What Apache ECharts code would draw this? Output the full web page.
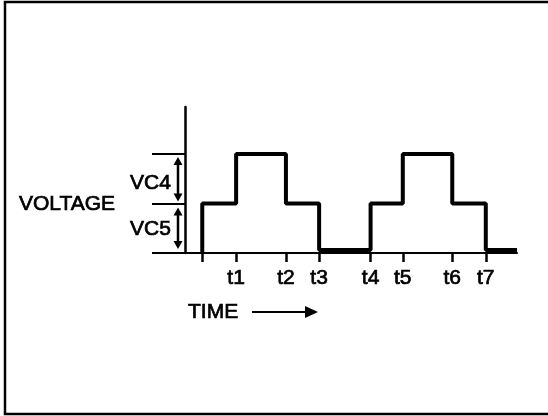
<!DOCTYPE html>
<html>
<head>
<meta charset="utf-8">
<script src="https://cdn.jsdelivr.net/npm/echarts@6/dist/echarts.min.js"></script>
<style>html,body{margin:0;padding:0;background:#fff}#c{width:548px;height:416px}</style>
</head>
<body>
<div id="c"></div>
<script>
// Switching instants (arbitrary time units, 0..100)
var switchTimes = [5.2, 15.4, 30.4, 40.4, 55.9, 65.6, 80.5, 90.6, 100];
// Voltage level held after each instant (0 = low, 1 = VC5, 2 = VC5+VC4)
var levels = [1, 2, 1, 0.06, 1, 2, 1, 0.06, 0.06];
var tickTimes = [5.2, 15.4, 30.4, 40.4, 55.9, 65.6, 80.5, 90.6];
var tickLabels = ['', 't1', 't2', 't3', 't4', 't5', 't6', 't7'];
var levelTicks = [0, 1, 2];

var wave = [[switchTimes[0], 0]];
for (var i = 0; i < switchTimes.length; i++) wave.push([switchTimes[i], levels[i]]);

var FONT = 'Liberation Sans, Arial, sans-serif';
var chart = echarts.init(document.getElementById('c'), null, {renderer: 'canvas'});
chart.setOption({
  animation: false,
  backgroundColor: '#fff',
  grid: {left: 185, top: 107, width: 332, bottom: 163, containLabel: false},
  xAxis: {
    type: 'value', min: 0, max: 100,
    axisLine: {show: true, onZero: false, lineStyle: {color: '#000', width: 2}},
    axisTick: {show: true, customValues: tickTimes, length: 9, inside: false, lineStyle: {color: '#000', width: 2.5}},
    axisLabel: {
      show: true, customValues: tickTimes.slice(1), margin: 15,
      color: '#000', fontSize: 21, fontFamily: FONT,
      textBorderColor: '#000', textBorderWidth: 0.7,
      formatter: function (v) { var k = tickTimes.indexOf(v); return k >= 0 ? tickLabels[k] : ''; }
    },
    splitLine: {show: false}
  },
  yAxis: {
    type: 'value', min: 0, max: 2.95,
    axisLine: {show: true, lineStyle: {color: '#000', width: 2.5}},
    axisTick: {show: true, customValues: levelTicks, length: 33, lineStyle: {color: '#000', width: 2}},
    axisLabel: {show: false},
    splitLine: {show: false}
  },
  series: [{
    type: 'line', data: wave, step: 'end', symbol: 'none',
    lineStyle: {color: '#000', width: 4}, clip: false
  }]
});

// annotations positioned via the chart's scales
var p0 = chart.convertToPixel({gridIndex: 0}, [0, 0]);
var p1 = chart.convertToPixel({gridIndex: 0}, [0, 1]);
var p2 = chart.convertToPixel({gridIndex: 0}, [0, 2]);
var ax = p0[0] - 7;
var TF = '21px ' + FONT;
function txt(x, y, s) {
  return {type: 'text', x: x, y: y, style: {text: s, font: TF, fill: '#000', stroke: '#000', lineWidth: 0.7, verticalAlign: 'middle'}};
}
function dblArrow(yTop, yBot) {
  var h = 7, w = 4.5;
  return [
    {type: 'line', shape: {x1: ax, y1: yTop + h, x2: ax, y2: yBot - h}, style: {stroke: '#000', lineWidth: 2.5}},
    {type: 'polygon', shape: {points: [[ax, yTop], [ax - w, yTop + h + 1], [ax + w, yTop + h + 1]]}, style: {fill: '#000'}},
    {type: 'polygon', shape: {points: [[ax, yBot], [ax - w, yBot - h - 1], [ax + w, yBot - h - 1]]}, style: {fill: '#000'}}
  ];
}
var g = [
  {type: 'rect', shape: {x: 5, y: 2, width: 560, height: 412}, style: {fill: null, stroke: '#000', lineWidth: 2.5}},
  txt(19, p1[1] + 1, 'VOLTAGE'),
  txt(130, (p1[1] + p2[1]) / 2 + 4, 'VC4'),
  txt(130, (p0[1] + p1[1]) / 2 + 1, 'VC5'),
  txt(188, 312, 'TIME'),
  {type: 'line', shape: {x1: 252, y1: 312, x2: 310, y2: 312}, style: {stroke: '#000', lineWidth: 2}},
  {type: 'polygon', shape: {points: [[318, 312], [305, 306], [305, 318]]}, style: {fill: '#000'}}
].concat(dblArrow(p2[1] + 3, p1[1] - 2)).concat(dblArrow(p1[1] + 4, p0[1] - 4));
chart.setOption({graphic: g});
</script>
</body>
</html>
